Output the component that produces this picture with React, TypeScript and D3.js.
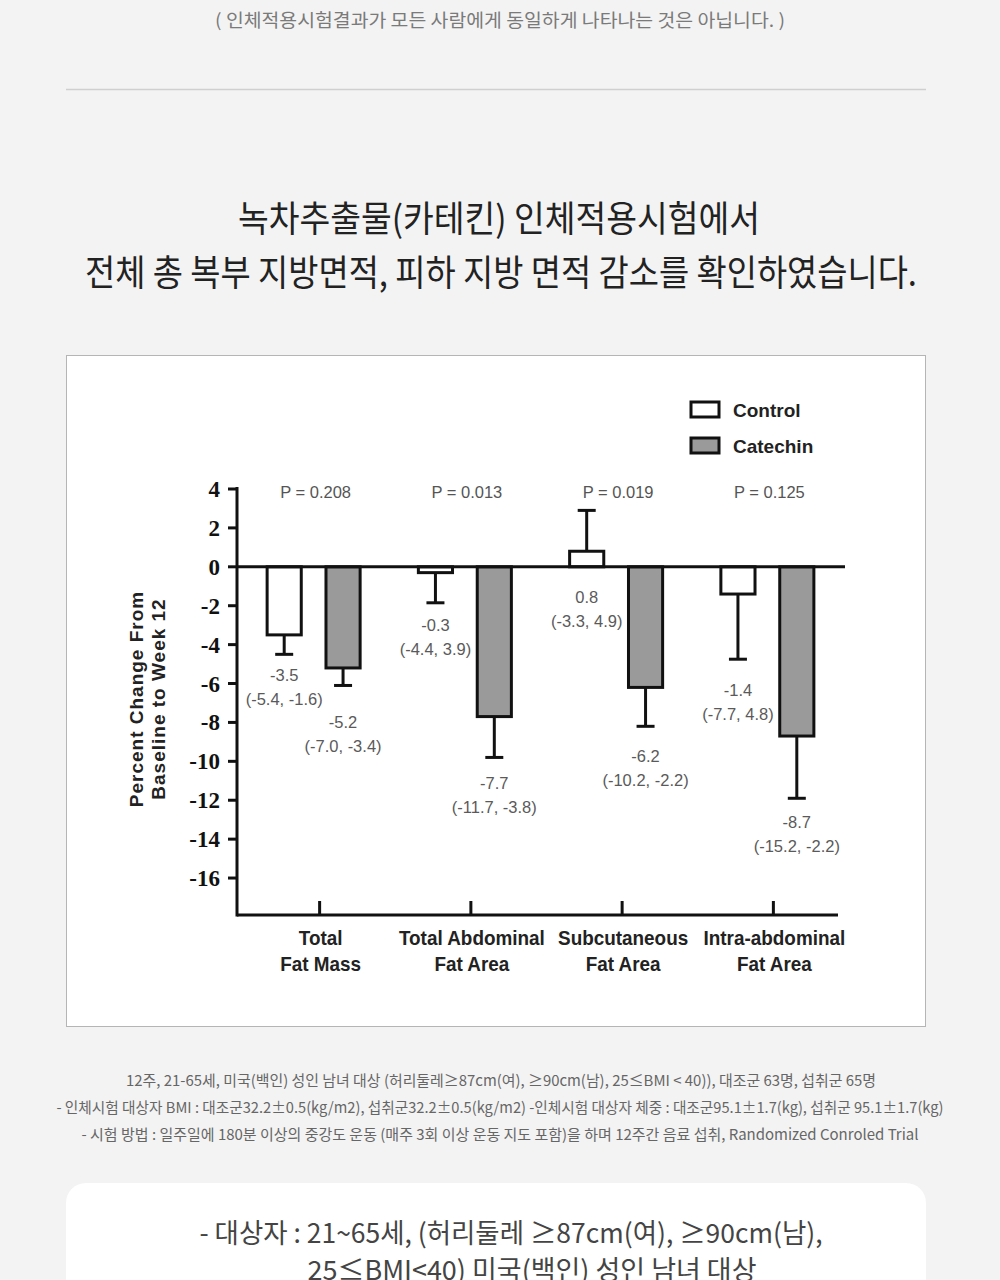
import React from 'react';
import * as d3 from 'd3';

// ---- data ----
const categories = [
  ['Total', 'Fat Mass'],
  ['Total Abdominal', 'Fat Area'],
  ['Subcutaneous', 'Fat Area'],
  ['Intra-abdominal', 'Fat Area'],
];
const groups = ['Control', 'Catechin'];
const controlMean = [-3.5, -0.3, 0.8, -1.4];
const catechinMean = [-5.2, -7.7, -6.2, -8.7];
// end of the error whisker for each bar
const controlErr = [-4.5, -1.85, 2.9, -4.75];
const catechinErr = [-6.1, -9.8, -8.2, -11.9];
const controlCI = ['(-5.4, -1.6)', '(-4.4, 3.9)', '(-3.3, 4.9)', '(-7.7, 4.8)'];
const catechinCI = ['(-7.0, -3.4)', '(-11.7, -3.8)', '(-10.2, -2.2)', '(-15.2, -2.2)'];
const pValues = ['P = 0.208', 'P = 0.013', 'P = 0.019', 'P = 0.125'];
const yTicks = [4, 2, 0, -2, -4, -6, -8, -10, -12, -14, -16];

const topNote = '( 인체적용시험결과가 모든 사람에게 동일하게 나타나는 것은 아닙니다. )';
const titleLines = [
  '녹차추출물(카테킨) 인체적용시험에서',
  '전체 총 복부 지방면적, 피하 지방 면적 감소를 확인하였습니다.',
];
const footLines = [
  '12주, 21-65세, 미국(백인) 성인 남녀 대상 (허리둘레≥87cm(여), ≥90cm(남), 25≤BMI < 40)), 대조군 63명, 섭취군 65명',
  '- 인체시험 대상자 BMI : 대조군32.2±0.5(kg/m2), 섭취군32.2±0.5(kg/m2) -인체시험 대상자 체중 : 대조군95.1±1.7(kg), 섭취군 95.1±1.7(kg)',
  '- 시험 방법 : 일주일에 180분 이상의 중강도 운동 (매주 3회 이상 운동 지도 포함)을 하며 12주간 음료 섭취, Randomized Conroled Trial',
];
const boxLines = [
  '- 대상자 : 21~65세, (허리둘레 ≥87cm(여), ≥90cm(남),',
  '25≤BMI<40) 미국(백인) 성인 남녀 대상',
];

const KR = '"Noto Sans CJK KR", "Noto Sans", sans-serif';
const SANS = '"Liberation Sans", Arial, sans-serif';
const SERIF = '"Liberation Serif", "Times New Roman", serif';

export default function App() {
  const W = 1000;
  const H = 1280;

  const y = d3.scaleLinear().domain([4, -17.9]).range([489, 915]);
  const x = d3.scaleBand<number>().domain(d3.range(categories.length)).range([238, 843]);
  const inner = d3.scaleBand<string>().domain(groups).range([-46.5, 46.5]).paddingInner(0.42);
  const bw = inner.bandwidth();
  const gc = (i: number) => (x(i) as number) + x.bandwidth() / 2;

  const series = [
    { name: 'Control', mean: controlMean, err: controlErr, ci: controlCI, fill: '#ffffff', gap: [21, 22, 30, 31] },
    { name: 'Catechin', mean: catechinMean, err: catechinErr, ci: catechinCI, fill: '#9a9a9a', gap: [37, 26, 30, 24] },
  ];

  const axisX = 237;
  const axisBottom = y(-17.9);

  return (
    <svg width={W} height={H} style={{ position: 'absolute', left: 0, top: 0, display: 'block' }}>
      <rect x={0} y={0} width={W} height={H} fill="#f3f3f3" />

      <text x={500} y={27} textAnchor="middle" fontFamily={KR} fontSize={18} fill="#7a7a7a"
        textLength={570} lengthAdjust="spacingAndGlyphs">{topNote}</text>
      <line x1={66} x2={926} y1={89.5} y2={89.5} stroke="#cfcfcf" strokeWidth={1.5} />

      <text x={499} y={232} textAnchor="middle" fontFamily={KR} fontSize={36} fill="#222"
        textLength={522} lengthAdjust="spacingAndGlyphs">{titleLines[0]}</text>
      <text x={501} y={286} textAnchor="middle" fontFamily={KR} fontSize={36} fill="#222"
        textLength={832} lengthAdjust="spacingAndGlyphs">{titleLines[1]}</text>

      {/* chart panel */}
      <rect x={66.5} y={355.5} width={859} height={671} fill="#fff" stroke="#b5b5b5" strokeWidth={1} />

      {/* legend */}
      {series.map((s, k) => (
        <g key={s.name}>
          <rect x={691} y={402 + k * 36} width={28} height={15} fill={s.fill} stroke="#111" strokeWidth={3} />
          <text x={733} y={417 + k * 36} fontFamily={SANS} fontWeight="bold" fontSize={19} fill="#222">{s.name}</text>
        </g>
      ))}

      {/* y axis */}
      <line x1={axisX} x2={axisX} y1={y(4) - 2} y2={axisBottom + 1.5} stroke="#111" strokeWidth={3} />
      {yTicks.map((t) => (
        <g key={t}>
          <line x1={axisX - 9} x2={axisX} y1={y(t)} y2={y(t)} stroke="#111" strokeWidth={3} />
          <text x={axisX - 17} y={y(t)} dy="0.35em" textAnchor="end" fontFamily={SERIF} fontWeight="bold" fontSize={23} fill="#111">{t}</text>
        </g>
      ))}
      <g transform={`translate(0, 699) rotate(-90)`} fontFamily={SANS} fontWeight="bold" fontSize={19} fill="#222" letterSpacing={1} textAnchor="middle">
        <text x={0} y={143}>Percent Change From</text>
        <text x={0} y={165}>Baseline to Week 12</text>
      </g>

      {/* x axis */}
      <line x1={axisX} x2={838} y1={axisBottom} y2={axisBottom} stroke="#111" strokeWidth={3} />
      {categories.map((c, i) => (
        <g key={c[0]}>
          <line x1={gc(i) + 6} x2={gc(i) + 6} y1={axisBottom - 14} y2={axisBottom} stroke="#111" strokeWidth={3} />
          <g transform={`translate(${gc(i) + 7}, 0) scale(0.9, 1)`} textAnchor="middle" fontFamily={SANS} fontWeight="bold" fontSize={21} fill="#222">
            <text x={0} y={945}>{c[0]}</text>
            <text x={0} y={971}>{c[1]}</text>
          </g>
          <text x={gc(i) + 2} y={498} textAnchor="middle" fontFamily={SANS} fontSize={16.5} fill="#555">{pValues[i]}</text>
        </g>
      ))}

      {/* bars, whiskers and value labels */}
      {series.map((s) =>
        s.mean.map((v, i) => {
          const cx = gc(i) + (inner(s.name) as number) + bw / 2;
          const top = y(Math.max(0, v));
          const h = Math.abs(y(v) - y(0));
          const low = y(Math.min(0, v, s.err[i]));
          const ly = low + s.gap[i];
          return (
            <g key={s.name + i}>
              <line x1={cx} x2={cx} y1={y(v)} y2={y(s.err[i])} stroke="#111" strokeWidth={3} />
              <line x1={cx - 9} x2={cx + 9} y1={y(s.err[i])} y2={y(s.err[i])} stroke="#111" strokeWidth={3} />
              <rect x={cx - bw / 2} y={top} width={bw} height={h} fill={s.fill} stroke="#111" strokeWidth={3} />
              <text x={cx} y={ly} dy="0.35em" textAnchor="middle" fontFamily={SANS} fontSize={16.5} fill="#5a5a5a">
                {v.toFixed(1)}
              </text>
              <text x={cx} y={ly + 24} dy="0.35em" textAnchor="middle" fontFamily={SANS} fontSize={16.5} fill="#5a5a5a">
                {s.ci[i]}
              </text>
            </g>
          );
        })
      )}

      {/* zero line */}
      <line x1={axisX} x2={845} y1={y(0)} y2={y(0)} stroke="#111" strokeWidth={3} />

      {/* footnotes */}
      <text x={501} y={1086} textAnchor="middle" fontFamily={KR} fontSize={15} fill="#666"
        textLength={750} lengthAdjust="spacingAndGlyphs">{footLines[0]}</text>
      <text x={500} y={1113} textAnchor="middle" fontFamily={KR} fontSize={15} fill="#666"
        textLength={887} lengthAdjust="spacingAndGlyphs">{footLines[1]}</text>
      <text x={500} y={1140} textAnchor="middle" fontFamily={KR} fontSize={15} fill="#666"
        textLength={837} lengthAdjust="spacingAndGlyphs">{footLines[2]}</text>

      {/* bottom info box */}
      <rect x={66} y={1183} width={860} height={140} rx={20} ry={20} fill="#fff" />
      <text x={511} y={1243} textAnchor="middle" fontFamily={KR} fontSize={27} fill="#444"
        textLength={623} lengthAdjust="spacingAndGlyphs">{boxLines[0]}</text>
      <text x={532} y={1280} textAnchor="middle" fontFamily={KR} fontSize={27} fill="#444"
        textLength={449} lengthAdjust="spacingAndGlyphs">{boxLines[1]}</text>
    </svg>
  );
}
